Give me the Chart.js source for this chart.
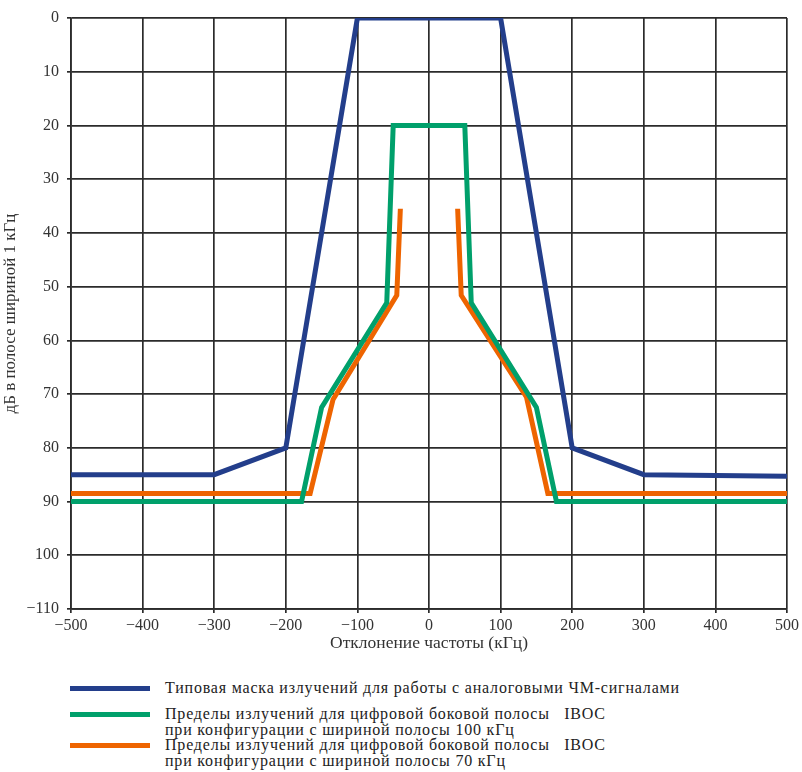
<!DOCTYPE html>
<html>
<head>
<meta charset="utf-8">
<script src="https://cdn.jsdelivr.net/npm/chart.js@4.4.1/dist/chart.umd.min.js"></script>
<style>
  html, body { margin: 0; padding: 0; background: #fff; }
  #wrap { position: relative; width: 802px; height: 772px; }
  #c { position: absolute; left: 0; top: 0; }
  #legend { position: absolute; left: 0; top: 676px; width: 802px;
    font-family: "Liberation Serif", "DejaVu Serif", serif; font-size: 16px; letter-spacing: 0.8px; color: #222; }
  .item { position: absolute; left: 0; }
  .sw { position: absolute; left: 70px; width: 80px; height: 5px; }
  .txt { position: absolute; left: 165px; line-height: 16px; white-space: nowrap; }
</style>
</head>
<body>
<div id="wrap">
  <canvas id="c" width="802" height="654"></canvas>
  <div id="legend"></div>
</div>
<script>
// ---- data ----
const xTickValues = [-500, -400, -300, -200, -100, 0, 100, 200, 300, 400, 500];
const xTickLabels = ["\u2212500", "\u2212400", "\u2212300", "\u2212200", "\u2212100", "0", "100", "200", "300", "400", "500"];
const yTickValues = [0, 10, 20, 30, 40, 50, 60, 70, 80, 90, 100, 110];
const yTickLabels = ["0", "10", "20", "30", "40", "50", "60", "70", "80", "90", "100", "\u2212110"];

const seriesNames = [
  ["Типовая маска излучений для работы с аналоговыми ЧМ-сигналами"],
  ["Пределы излучений для цифровой боковой полосы   IBOC", "при конфигурации с шириной полосы 100 кГц"],
  ["Пределы излучений для цифровой боковой полосы   IBOC", "при конфигурации с шириной полосы 70 кГц"]
];

const analogX = [-500, -300, -200, -100, 100, 200, 300, 500];
const analogY = [85, 85, 80, 0, 0, 80, 85, 85.3];

const iboc100X = [-500, -178, -150, -59, -50, 50, 59, 150, 178, 500];
const iboc100Y = [90, 90, 72.5, 53, 20, 20, 53, 72.5, 90, 90];

const iboc70X = [-500, -166, -134, -45, -40, 0, 40, 45, 136, 166, 500];
const iboc70Y = [88.5, 88.5, 71, 51.6, 35.5, null, 35.5, 51.6, 70.5, 88.5, 88.5];

const colors = ["#233E8B", "#00A06B", "#EE6400"];

function pts(xs, ys) { return xs.map((x, i) => ({ x: x, y: ys[i] })); }

const datasets = [
  { label: seriesNames[0].join(" "), data: pts(analogX, analogY) },
  { label: seriesNames[1].join(" "), data: pts(iboc100X, iboc100Y) },
  { label: seriesNames[2].join(" "), data: pts(iboc70X, iboc70Y) }
].map((d, i) => Object.assign(d, {
  borderColor: colors[i], backgroundColor: colors[i], borderWidth: 5,
  pointRadius: 0, tension: 0, fill: false, spanGaps: false,
  borderJoinStyle: "miter", borderCapStyle: "butt"
}));

const fam = "'Liberation Serif', 'DejaVu Serif', serif";
const font = { family: fam, size: 16 };
const gridColor = "#2b2b2b";

new Chart(document.getElementById("c"), {
  type: "line",
  data: { datasets: datasets },
  options: {
    responsive: false,
    animation: false,
    devicePixelRatio: 1,
    layout: { padding: { top: 18, right: 15, left: 0, bottom: 0 } },
    plugins: { legend: { display: false }, tooltip: { enabled: false } },
    scales: {
      x: {
        type: "linear", min: -500, max: 500,
        afterBuildTicks: s => { s.ticks = xTickValues.map(v => ({ value: v })); },
        afterFit: s => { s.height = 45; },
        ticks: { font: font, color: "#333", padding: 3,
          callback: (v) => { const i = xTickValues.indexOf(v); return i >= 0 ? xTickLabels[i] : ""; } },
        grid: { color: gridColor, lineWidth: 1.7, tickLength: 4 },
        border: { color: gridColor, width: 1.7 },
        title: { display: true, text: "Отклонение частоты (кГц)", font: { family: fam, size: 17.5 }, color: "#333", padding: { top: 0, bottom: 0 } }
      },
      y: {
        type: "linear", min: 0, max: 110, reverse: true,
        afterBuildTicks: s => { s.ticks = yTickValues.map(v => ({ value: v })); },
        afterFit: s => { s.width = 71; },
        ticks: { font: font, color: "#333", padding: 8,
          callback: (v) => { const i = yTickValues.indexOf(v); return i >= 0 ? yTickLabels[i] : ""; } },
        grid: { color: gridColor, lineWidth: 1.7, tickLength: 4 },
        border: { color: gridColor, width: 1.7 },
        title: { display: true, text: "дБ в полосе шириной 1 кГц", font: { family: fam, size: 17 }, color: "#333", padding: { top: 0, bottom: 0 } }
      }
    }
  }
});

// HTML legend built from the series names
const legend = document.getElementById("legend");
const rowTops = [4, 30, 61];
seriesNames.forEach((lines, i) => {
  const item = document.createElement("div");
  item.className = "item";
  item.style.top = rowTops[i] + "px";
  const sw = document.createElement("div");
  sw.className = "sw";
  sw.style.background = colors[i];
  sw.style.top = "6px";
  const t = document.createElement("div");
  t.className = "txt";
  t.style.top = "0px";
  t.innerHTML = lines.map(l => l.replace(/ {2,}/g, m => "&nbsp;".repeat(m.length))).join("<br>");
  item.appendChild(sw);
  item.appendChild(t);
  legend.appendChild(item);
});
</script>
</body>
</html>
